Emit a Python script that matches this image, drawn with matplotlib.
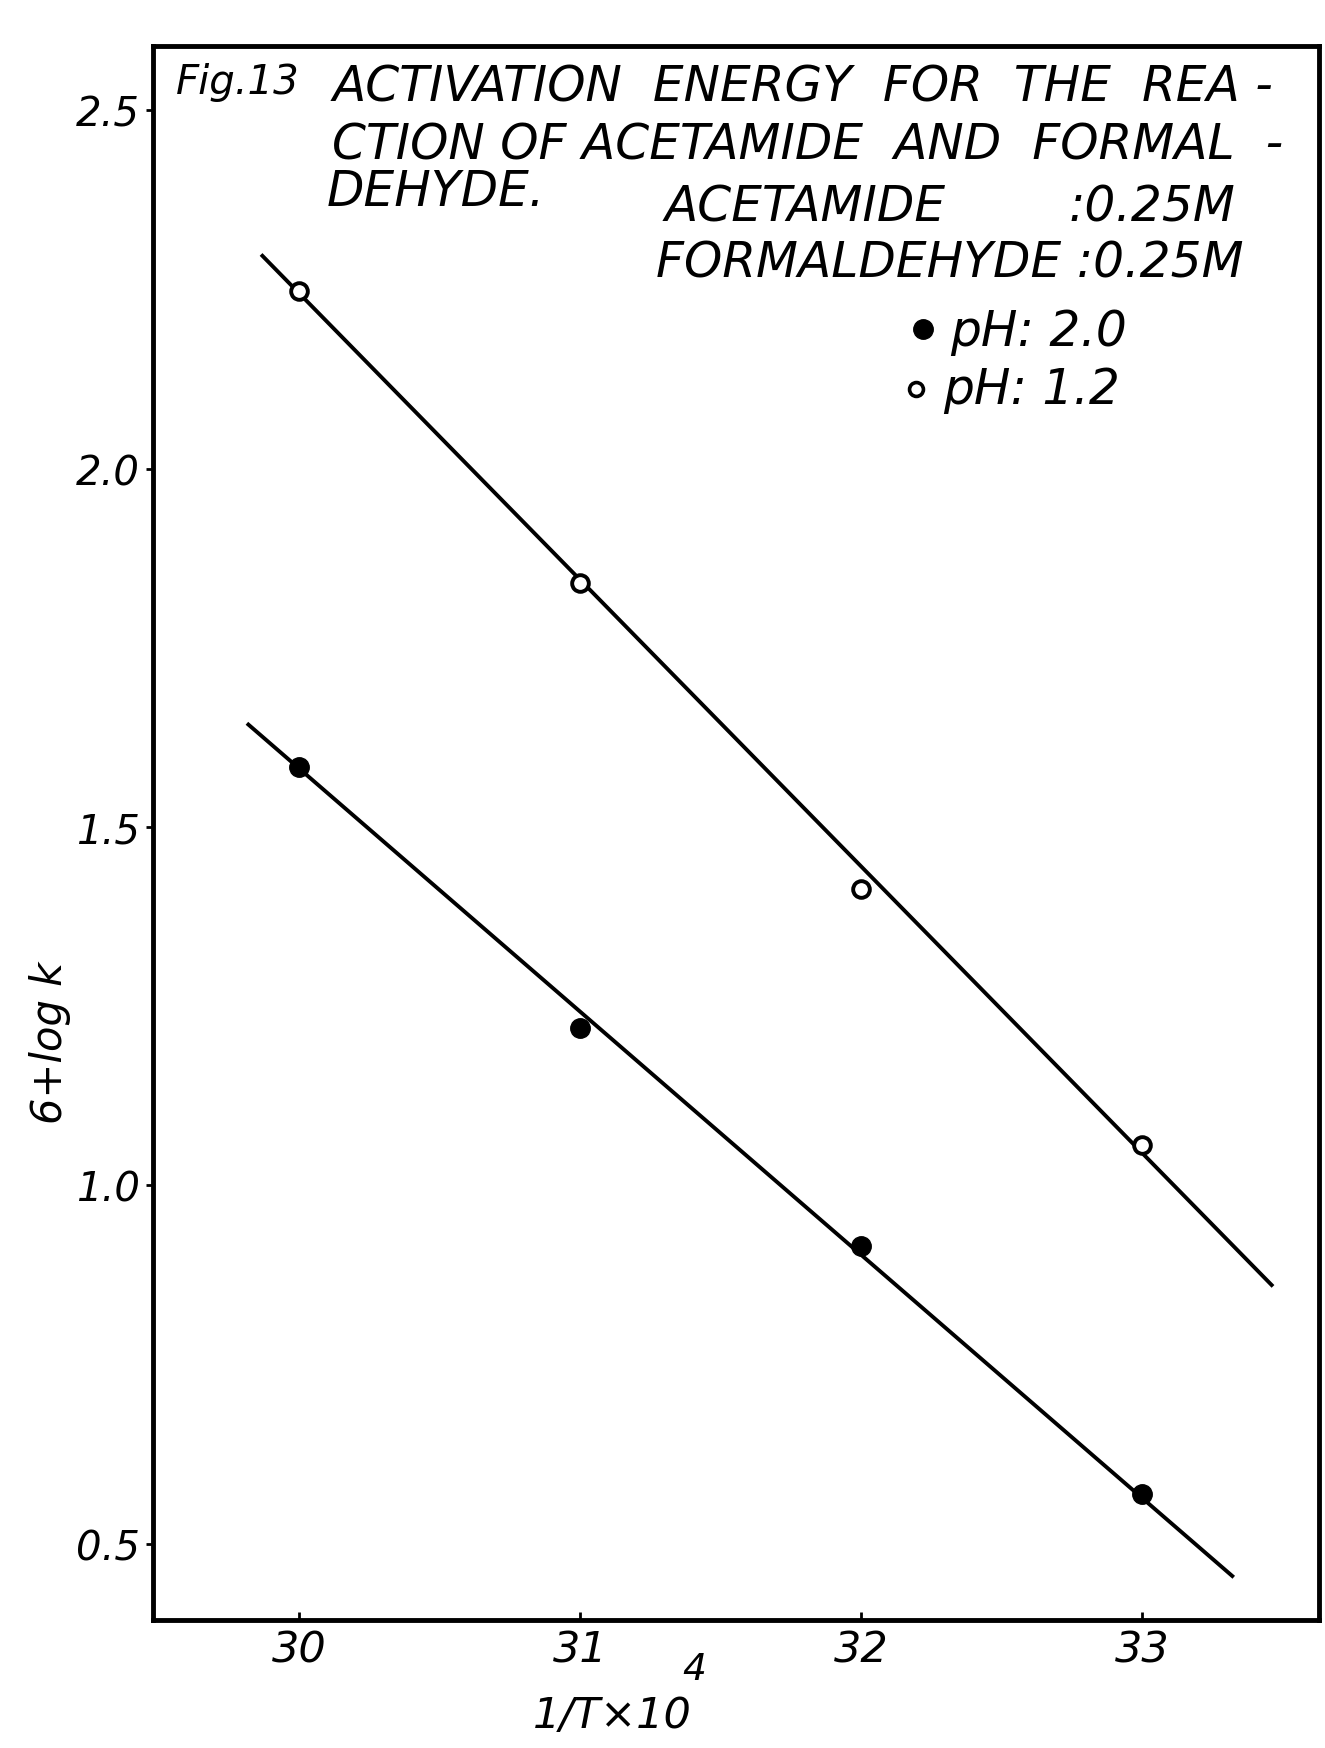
import matplotlib
matplotlib.use("Agg")
import matplotlib.pyplot as plt

# 1/T x 10^4 and 6+log k readings
inv_T = [30.0, 31.0, 32.0, 33.0]
logk_ph20 = [1.584, 1.220, 0.916, 0.569]   # filled dots
logk_ph12 = [2.248, 1.841, 1.413, 1.056]   # open circles

# hand-drawn fit lines (end points)
fit12_x = [29.87, 33.46]
fit12_y = [2.297, 0.861]
fit20_x = [29.82, 33.32]
fit20_y = [1.643, 0.455]

xticks = [30, 31, 32, 33]
yticks = [0.5, 1.0, 1.5, 2.0, 2.5]
ytick_labels = ["0.5", "1.0", "1.5", "2.0", "2.5"]

W, H = 1188, 1568  # layout reference frame


def fx(x):
    return x / W


def fy(y):
    return 1 - y / H


plt.rcParams['font.family'] = ['DejaVu Sans']
plt.rcParams['font.style'] = 'oblique'

fig = plt.figure(figsize=(13.25, 17.49), dpi=100)
ax = fig.add_axes([fx(137), fy(1453), fx(1183) - fx(137), fy(42) - fy(1453)])

ax.plot(fit12_x, fit12_y, color='black', lw=2.8)
ax.plot(fit20_x, fit20_y, color='black', lw=2.8)
ax.plot(inv_T, logk_ph12, 'o', ms=12, mfc='white', mec='black', mew=2.8)
ax.plot(inv_T, logk_ph20, 'o', ms=14, mfc='black', mec='black')

ax.set_xlim(29.48, 33.63)
ax.set_ylim(0.394, 2.59)
ax.set_xticks(xticks)
ax.set_xticklabels([str(t) for t in xticks], fontsize=31, style='oblique')
ax.set_yticks(yticks)
ax.set_yticklabels(ytick_labels, fontsize=29, style='oblique')
ax.tick_params(axis='x', direction='in', length=6, width=2, pad=6)
ax.tick_params(axis='y', direction='out', length=5, width=2, pad=4)
for s in ax.spines.values():
    s.set_linewidth(3.5)

fig.text(fx(45), fy(935), '6+log k', fontsize=30, style='oblique',
         rotation=90, ha='center', va='center')
fig.text(fx(478), fy(1538), '1/T\u00d710', fontsize=31, style='oblique',
         ha='left', va='center')
fig.text(fx(612), fy(1497), '4', fontsize=27, style='oblique',
         ha='left', va='center')

# title block
fs = 35
fig.text(fx(158), fy(74), 'Fig.13', fontsize=29, ha='left', va='center')
fig.text(fx(298), fy(78), 'ACTIVATION  ENERGY  FOR  THE  REA -', fontsize=fs,
         ha='left', va='center')
fig.text(fx(298), fy(130), 'CTION OF ACETAMIDE  AND  FORMAL  -', fontsize=fs,
         ha='left', va='center')
fig.text(fx(293), fy(172), 'DEHYDE.', fontsize=fs, ha='left', va='center')
fig.text(fx(596), fy(186), 'ACETAMIDE', fontsize=fs, ha='left', va='center')
fig.text(fx(958), fy(186), ':0.25M', fontsize=fs, ha='left', va='center')
fig.text(fx(588), fy(236), 'FORMALDEHYDE :0.25M', fontsize=fs,
         ha='left', va='center')

# legend
ax.plot([fx(828)], [fy(296)], 'o', ms=14, mfc='black', mec='black',
        transform=fig.transFigure, clip_on=False)
fig.text(fx(852), fy(298), 'pH: 2.0', fontsize=fs, ha='left', va='center')
ax.plot([fx(821)], [fy(350)], 'o', ms=10, mfc='white', mec='black', mew=2.6,
        transform=fig.transFigure, clip_on=False)
fig.text(fx(846), fy(350), 'pH: 1.2', fontsize=fs, ha='left', va='center')

fig.savefig('out.png', dpi=100)
